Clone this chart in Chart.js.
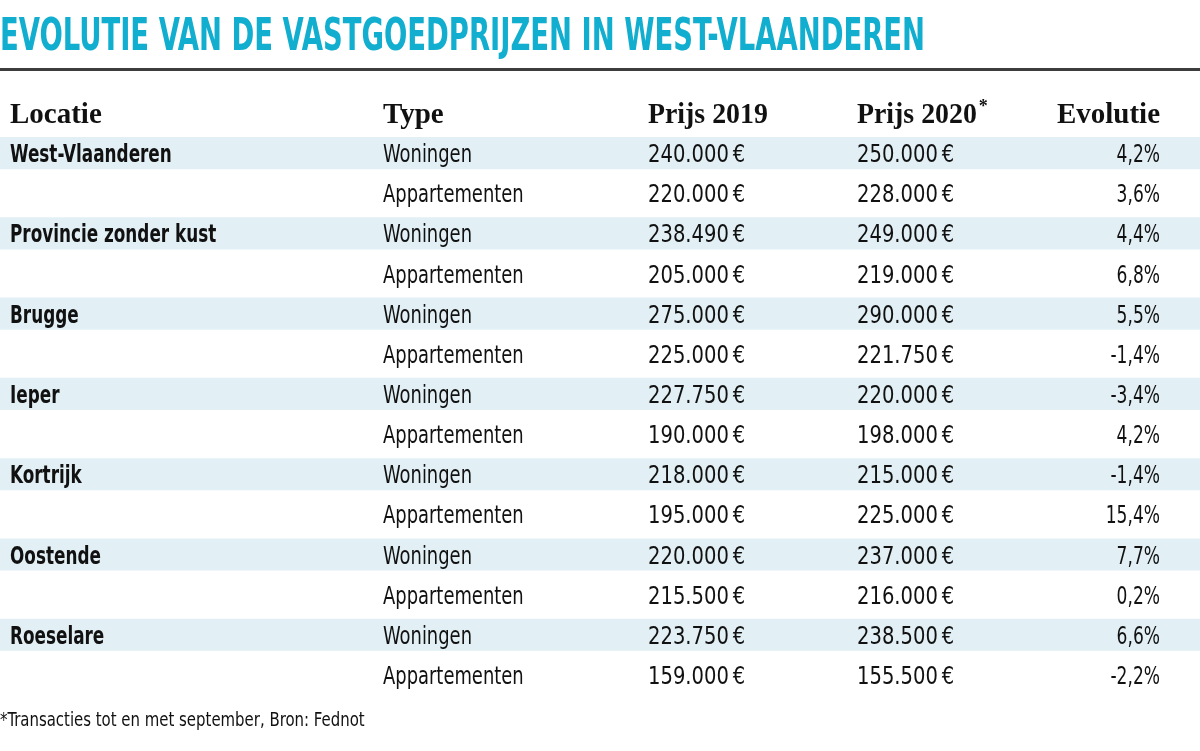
<!DOCTYPE html>
<html lang="nl">
<head>
<meta charset="UTF-8">
<title>Evolutie van de vastgoedprijzen in West-Vlaanderen</title>
<script src="https://cdn.jsdelivr.net/npm/chart.js@4.4.2/dist/chart.umd.min.js"></script>
<style>
  body { margin: 0; padding: 0; background: #fff; }
  .wrap { width: 1200px; height: 751px; position: relative; }
</style>
</head>
<body>
<div class="wrap"><canvas id="tabel"></canvas></div>
<script>
const titel = 'EVOLUTIE VAN DE VASTGOEDPRIJZEN IN WEST-VLAANDEREN';
const kolommen = ['Locatie', 'Type', 'Prijs 2019', 'Prijs 2020', 'Evolutie'];
const locaties = ['West-Vlaanderen', 'Provincie zonder kust', 'Brugge', 'Ieper', 'Kortrijk', 'Oostende', 'Roeselare'];
const types = ['Woningen', 'Appartementen'];
const prijs2019 = [240000, 220000, 238490, 205000, 275000, 225000, 227750, 190000, 218000, 195000, 220000, 215500, 223750, 159000];
const prijs2020 = [250000, 228000, 249000, 219000, 290000, 221750, 220000, 198000, 215000, 225000, 237000, 216000, 238500, 155500];
const evolutie = [4.2, 3.6, 4.4, 6.8, 5.5, -1.4, -3.4, 4.2, -1.4, 15.4, 7.7, 0.2, 6.6, -2.2];
const voetnoot = '*Transacties tot en met september, Bron: Fednot';

// one row per location/type
const rijen = [];
locaties.forEach(l => types.forEach(t => rijen.push({ loc: l, type: t })));
const rijLabels = rijen.map((r, i) => i);

// layout
const colX = { loc: 10, type: 383, p19: 648, p20: 857, evoRight: 1160 };
const cyan = '#12aecf';
const streep = '#e2f0f6';
const narrow = '"Liberation Sans Narrow", "DejaVu Sans Condensed", "Roboto", sans-serif';

function euro(v) {
  return String(v).replace(/\B(?=(\d{3})+(?!\d))/g, '.') + '\u2009€';
}
function pct(v) {
  return v.toFixed(1).replace('.', ',') + '%';
}
// squeeze text horizontally, the original uses a very condensed face
function smal(ctx, txt, x, y, f) {
  const w = ctx.measureText(txt).width * f;
  ctx.fillText(txt, x, y, w);
}

const tekstPlugin = {
  id: 'tekst',
  afterDatasetsDraw(chart) {
    const ctx = chart.ctx;
    const x = chart.scales.x, y = chart.scales.y;
    ctx.save();
    // title
    ctx.fillStyle = cyan;
    ctx.font = 'bold 44px ' + narrow;
    ctx.textAlign = 'left';
    ctx.textBaseline = 'alphabetic';
    ctx.fillText(titel, 0, 50, 925);
    // rule
    ctx.fillStyle = '#3d3d3d';
    ctx.fillRect(0, 68, chart.width, 3);

    // header
    const hy = y.getPixelForValue(-1) + 10;
    const serif = '"Liberation Serif", "DejaVu Serif", serif';
    ctx.fillStyle = '#111';
    ctx.font = 'bold 29px ' + serif;
    ctx.fillText(kolommen[0], x.getPixelForValue(colX.loc), hy);
    ctx.fillText(kolommen[1], x.getPixelForValue(colX.type), hy);
    smal(ctx, kolommen[2], x.getPixelForValue(colX.p19), hy, 0.96);
    smal(ctx, kolommen[3], x.getPixelForValue(colX.p20), hy, 0.96);
    const w20 = ctx.measureText(kolommen[3]).width * 0.96;
    ctx.font = 'bold 18px ' + serif;
    ctx.fillText('*', x.getPixelForValue(colX.p20) + w20 + 2, hy - 11);
    ctx.font = 'bold 29px ' + serif;
    ctx.textAlign = 'right';
    ctx.fillText(kolommen[4], x.getPixelForValue(colX.evoRight), hy);

    // rows
    rijen.forEach((r, i) => {
      const py = y.getPixelForValue(i) + 9;
      ctx.fillStyle = '#111';
      ctx.textAlign = 'left';
      if (r.type === types[0]) {
        ctx.font = 'bold 24px ' + narrow;
        smal(ctx, r.loc, x.getPixelForValue(colX.loc), py, 0.78);
      }
      ctx.font = '24px ' + narrow;
      smal(ctx, r.type, x.getPixelForValue(colX.type), py, 0.83);
      ctx.font = '25px ' + narrow;
      smal(ctx, euro(prijs2019[i]), x.getPixelForValue(colX.p19), py, 0.87);
      smal(ctx, euro(prijs2020[i]), x.getPixelForValue(colX.p20), py, 0.87);
      ctx.textAlign = 'right';
      smal(ctx, pct(evolutie[i]), x.getPixelForValue(colX.evoRight), py, 0.76);
    });

    // footnote
    ctx.textAlign = 'left';
    ctx.font = '20px ' + narrow;
    ctx.fillStyle = '#111';
    smal(ctx, voetnoot, 0, y.getPixelForValue(14) + 11, 0.83);
    ctx.restore();
  }
};

new Chart(document.getElementById('tabel'), {
  type: 'bar',
  data: {
    labels: rijLabels,
    datasets: [{
      // light stripes behind the "Woningen" rows
      data: rijen.map(r => r.type === types[0] ? [0, 1200] : null),
      backgroundColor: streep,
      borderWidth: 0,
      categoryPercentage: 1,
      barPercentage: 0.8
    }]
  },
  options: {
    indexAxis: 'y',
    responsive: true,
    maintainAspectRatio: false,
    animation: false,
    layout: { padding: { top: 133, bottom: 56, left: 0, right: 0 } },
    scales: {
      x: { type: 'linear', min: 0, max: 1200, display: false },
      y: { type: 'category', display: false, offset: true }
    },
    plugins: {
      legend: { display: false },
      tooltip: { enabled: false }
    }
  },
  plugins: [tekstPlugin]
});
</script>
</body>
</html>
